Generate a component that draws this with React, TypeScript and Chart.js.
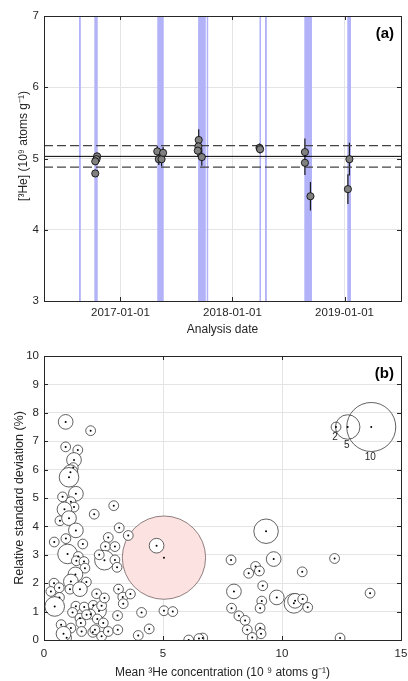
import React, { useEffect, useRef } from 'react';
import { Chart, registerables } from 'chart.js';

Chart.register(...registerables);

const FONT = '"Liberation Sans", Arial, Helvetica, sans-serif';
const INK = '#262626';
const GRID = '#e4e4e4';

// ---------- Panel (a) data ----------
const dateMin = '2016-04-27';
const dateMax = '2019-07-04';
const dateTicks = ['2017-01-01', '2018-01-01', '2019-01-01'];
const heYMin = 3;
const heYMax = 7;
const heTitle = '[³He] (10⁹ atoms g⁻¹)';

const analysisDates = [
  '2016-10-17', '2016-10-15', '2016-10-11', '2016-10-11',
  '2017-05-01', '2017-05-06', '2017-05-15', '2017-05-20',
  '2017-09-13', '2017-09-12', '2017-09-10', '2017-09-23',
  '2018-03-30', '2018-04-01',
  '2018-08-25', '2018-08-25', '2018-09-12',
  '2019-01-17', '2019-01-12',
];
const heValues = [
  5.03, 4.99, 4.96, 4.79,
  5.10, 4.99, 4.99, 5.08,
  5.26, 5.17, 5.11, 5.02,
  5.15, 5.13,
  5.09, 4.94, 4.47,
  4.99, 4.57,
];
const heErrors = [
  0.05, 0.05, 0.05, 0.05,
  0.08, 0.08, 0.1, 0.08,
  0.15, 0.08, 0.08, 0.12,
  0.06, 0.06,
  0.19, 0.17, 0.2,
  0.23, 0.21,
];
const bandStarts = ['2016-08-19', '2016-10-08', '2017-05-01', '2017-09-11', '2017-10-09', '2018-03-30', '2018-04-17', '2018-08-23', '2019-01-10'];
const bandEnds = ['2016-08-25', '2016-10-19', '2017-05-22', '2017-10-06', '2017-10-13', '2018-04-03', '2018-04-23', '2018-09-17', '2019-01-22'];
const meanValue = 5.03;
const meanSpread = 0.15;

// ---------- Panel (b) data ----------
const bubbleConc = [
  0.91, 1.96, 0.91, 1.42, 1.26, 1.23, 1.11, 1.05, 0.78, 1.34,
  1.13, 1.26, 0.86, 2.93, 2.11, 0.67, 1.05, 3.16, 3.54, 1.34,
  0.92, 0.43, 1.63, 2.70, 2.58, 2.98, 0.99, 1.44, 1.36, 1.68,
  1.72, 2.54, 2.32, 2.98, 3.07, 1.32, 1.13, 1.78, 0.42, 0.29,
  0.64, 1.09, 1.51, 0.65, 0.45, 1.34, 1.20, 1.69, 2.07, 2.31,
  2.42, 1.96, 1.51, 1.79, 2.24, 2.49, 2.21, 2.54, 3.13, 3.31,
  3.63, 3.33, 3.09, 4.10, 5.04, 5.41, 4.42, 3.96, 6.08, 6.67,
  6.51, 0.72, 1.13, 1.55, 1.58, 0.95, 0.82, 2.05, 2.42, 2.70,
  3.10, 2.14, 4.73,
  9.33, 9.65, 7.86, 8.89, 8.60, 9.05, 10.85, 9.19, 7.98, 9.78,
  10.50, 10.55, 10.87, 11.08, 9.15, 9.08, 7.88, 8.19, 8.45, 8.54,
  9.08, 9.12, 8.75, 12.21, 13.70, 12.44,
];
const bubbleRsd = [
  7.68, 7.37, 6.80, 6.69, 6.34, 6.07, 5.91, 5.73, 5.04, 5.15,
  4.87, 4.68, 4.60, 4.73, 4.43, 4.20, 4.29, 3.95, 3.68, 3.86,
  3.57, 3.45, 3.38, 3.61, 3.29, 3.29, 3.03, 2.94, 2.79, 2.76,
  2.53, 2.81, 3.00, 2.82, 2.56, 2.31, 2.06, 2.04, 2.00, 1.71,
  1.84, 1.79, 1.79, 1.50, 1.18, 1.19, 0.97, 1.16, 1.22, 1.02,
  1.21, 0.91, 0.77, 0.89, 0.74, 0.60, 1.63, 1.48, 1.79, 1.51,
  1.62, 1.28, 0.86, 0.97, 1.03, 1.00, 0.39, 0.16, 0.00, 0.07,
  0.05, 0.54, 0.42, 0.60, 0.30, 0.08, 0.22, 0.27, 0.13, 0.30,
  0.36, 0.36, 3.32,
  3.83, 2.85, 2.82, 2.59, 2.35, 2.43, 2.40, 1.91, 1.71, 1.50,
  1.29, 1.38, 1.44, 1.15, 1.37, 1.12, 1.12, 0.85, 0.69, 0.36,
  0.42, 0.22, 0.09, 2.87, 1.65, 0.07,
];
const bubbleN = [
  3, 2, 2, 2, 3, 2, 3, 4, 2, 3,
  2, 2, 3, 2, 2, 2, 3, 2, 2, 3,
  2, 2, 2, 2, 2, 2, 4, 2, 2, 2,
  2, 4, 2, 2, 2, 3, 3, 2, 2, 2,
  2, 2, 3, 2, 4, 2, 2, 2, 2, 3,
  2, 2, 2, 2, 2, 2, 2, 2, 2, 2,
  2, 2, 2, 2, 2, 2, 2, 2, 2, 2,
  2, 2, 2, 2, 2, 2, 3, 2, 2, 2,
  2, 2, 3,
  5, 3, 2, 2, 2, 2, 2, 2, 3, 3,
  4, 3, 2, 2, 2, 2, 2, 2, 2, 2,
  2, 2, 2, 2, 2, 2,
];
const summaryConc = 5.04;
const summaryRsd = 2.9;
const summaryN = 17;

const legendN = [2, 5, 10];
const legendConc = [12.27, 12.76, 13.75];
const legendRsd = [7.5, 7.5, 7.5];

const R_PER_N = 2.45;

const toMs = (d: string) => Date.parse(d + 'T00:00:00Z');

const noPad = (s: any) => {
  s.paddingLeft = 0;
  s.paddingRight = 0;
  s.paddingTop = 0;
  s.paddingBottom = 0;
};

const boxPlugin = {
  id: 'box',
  afterDraw(chart: any, _args: any, opts: any) {
    const { ctx, chartArea: a } = chart;
    const xs = chart.scales.x;
    const ys = chart.scales.y;
    ctx.save();
    ctx.strokeStyle = INK;
    ctx.lineWidth = 1;
    ctx.beginPath();
    xs.ticks.forEach((t: any) => {
      const px = Math.round(xs.getPixelForValue(t.value)) + 0.5;
      ctx.moveTo(px, a.bottom);
      ctx.lineTo(px, a.bottom - 4);
      ctx.moveTo(px, a.top);
      ctx.lineTo(px, a.top + 4);
    });
    ys.ticks.forEach((t: any) => {
      const py = Math.round(ys.getPixelForValue(t.value)) + 0.5;
      ctx.moveTo(a.left, py);
      ctx.lineTo(a.left + 4, py);
      ctx.moveTo(a.right, py);
      ctx.lineTo(a.right - 4, py);
    });
    ctx.stroke();
    ctx.strokeRect(Math.round(a.left) + 0.5, Math.round(a.top) + 0.5, Math.round(a.right - a.left), Math.round(a.bottom - a.top));
    ctx.font = `bold 15px ${FONT}`;
    ctx.fillStyle = '#000';
    ctx.textAlign = 'right';
    ctx.textBaseline = 'middle';
    ctx.fillText(opts.label, a.right - 7, a.top + 18);
    if (opts.yTitle) {
      ctx.font = `12px ${FONT}`;
      ctx.fillStyle = INK;
      ctx.textAlign = 'center';
      ctx.translate(24, a.top + (a.bottom - a.top) * 0.456);
      ctx.rotate(-Math.PI / 2);
      ctx.fillText(opts.yTitle, 0, 0);
    }
    ctx.restore();
  },
};

const panelAPlugin = {
  id: 'panelA',
  beforeDatasetsDraw(chart: any) {
    const { ctx, chartArea: a } = chart;
    const x = chart.scales.x;
    const y = chart.scales.y;
    ctx.save();
    ctx.beginPath();
    ctx.rect(a.left, a.top, a.right - a.left, a.bottom - a.top);
    ctx.clip();
    ctx.fillStyle = 'rgb(178,178,248)';
    bandStarts.forEach((s, i) => {
      const x1 = x.getPixelForValue(toMs(s));
      const x2 = x.getPixelForValue(toMs(bandEnds[i]));
      ctx.fillRect(x1, a.top, Math.max(x2 - x1, 1.5), a.bottom - a.top);
    });
    ctx.strokeStyle = '#1a1a1a';
    ctx.lineWidth = 1.2;
    ctx.beginPath();
    analysisDates.forEach((d, i) => {
      const px = x.getPixelForValue(toMs(d));
      ctx.moveTo(px, y.getPixelForValue(heValues[i] - heErrors[i]));
      ctx.lineTo(px, y.getPixelForValue(heValues[i] + heErrors[i]));
    });
    ctx.stroke();
    ctx.restore();
  },
};

const legendLabelPlugin = {
  id: 'legendLabels',
  afterDatasetsDraw(chart: any) {
    const { ctx } = chart;
    const x = chart.scales.x;
    const y = chart.scales.y;
    ctx.save();
    ctx.font = `10px ${FONT}`;
    ctx.fillStyle = INK;
    ctx.textAlign = 'center';
    ctx.textBaseline = 'top';
    legendN.forEach((n, i) => {
      const px = x.getPixelForValue(legendConc[i]);
      const py = y.getPixelForValue(legendRsd[i]);
      ctx.fillText(String(n), px - 1, py + n * R_PER_N + 0.5);
    });
    ctx.restore();
  },
};

const tickFont = { family: FONT, size: 11.5 };
const titleFont = { family: FONT, size: 12 };

function PanelA() {
  const ref = useRef<HTMLCanvasElement>(null);
  useEffect(() => {
    const xMin = toMs(dateMin);
    const xMax = toMs(dateMax);
    const hLine = (v: number, color: string, dash: number[], w: number) => ({
      data: [{ x: xMin, y: v }, { x: xMax, y: v }],
      showLine: true,
      borderColor: color,
      borderWidth: w,
      borderDash: dash,
      pointRadius: 0,
      order: 1,
    });
    const chart = new Chart(ref.current as HTMLCanvasElement, {
      type: 'scatter',
      data: {
        datasets: [
          {
            data: analysisDates.map((d, i) => ({ x: toMs(d), y: heValues[i] })),
            pointRadius: 3.6,
            backgroundColor: '#808080',
            borderColor: '#000',
            borderWidth: 0.8,
            order: 0,
          } as any,
          hLine(meanValue, '#000', [], 1),
          hLine(meanValue + meanSpread, '#444', [9, 4], 1.2),
          hLine(meanValue - meanSpread, '#444', [9, 4], 1.2),
        ],
      },
      options: {
        animation: false,
        responsive: false,
        events: [],
        layout: { autoPadding: false, padding: { left: 0, right: 7, top: 16, bottom: 0 } },
        plugins: { legend: { display: false }, tooltip: { enabled: false }, box: { label: '(a)', yTitle: heTitle } } as any,
        scales: {
          x: {
            type: 'linear',
            min: xMin,
            max: xMax,
            afterBuildTicks: (s: any) => {
              s.ticks = dateTicks.map((d) => ({ value: toMs(d) }));
            },
            afterFit: (s: any) => {
              s.height = 39;
              noPad(s);
            },
            ticks: {
              callback: (v: any) => new Date(v).toISOString().slice(0, 10),
              font: tickFont,
              color: INK,
              padding: 5,
              maxRotation: 0,
              autoSkip: false,
            },
            grid: { color: GRID, drawTicks: false },
            border: { display: false },
            title: { display: true, text: 'Analysis date', font: titleFont, color: INK, padding: { top: 0, bottom: 3 } },
          },
          y: {
            type: 'linear',
            min: heYMin,
            max: heYMax,
            afterFit: (s: any) => {
              s.width = 44;
              noPad(s);
            },
            ticks: { stepSize: 1, font: tickFont, color: INK, padding: 5 },
            grid: { color: GRID, drawTicks: false },
            border: { display: false },
            title: { display: false },
          },
        } as any,
      },
      plugins: [panelAPlugin, boxPlugin],
    } as any);
    return () => chart.destroy();
  }, []);
  return <canvas ref={ref} width={408} height={340} style={{ display: 'block', width: 408, height: 340 }} />;
}

function PanelB() {
  const ref = useRef<HTMLCanvasElement>(null);
  useEffect(() => {
    const centers = [
      ...bubbleConc.map((x, i) => ({ x, y: bubbleRsd[i], r: 1 })),
      { x: summaryConc, y: summaryRsd, r: 1 },
      ...legendConc.map((x, i) => ({ x, y: legendRsd[i], r: 1 })),
    ];
    const chart = new Chart(ref.current as HTMLCanvasElement, {
      type: 'bubble',
      data: {
        datasets: [
          {
            data: [{ x: summaryConc, y: summaryRsd, r: summaryN * R_PER_N }],
            backgroundColor: 'rgb(253,226,226)',
            borderColor: 'rgb(115,95,95)',
            borderWidth: 0.8,
            order: 3,
            clip: 0,
          },
          {
            data: bubbleConc.map((x, i) => ({ x, y: bubbleRsd[i], r: bubbleN[i] * R_PER_N })),
            backgroundColor: '#ffffff',
            borderColor: '#3a3a3a',
            borderWidth: 0.8,
            order: 2,
            clip: 0,
          },
          {
            data: legendConc.map((x, i) => ({ x, y: legendRsd[i], r: legendN[i] * R_PER_N })),
            backgroundColor: 'rgba(255,255,255,0)',
            borderColor: '#3a3a3a',
            borderWidth: 0.8,
            order: 1,
            clip: 0,
          },
          {
            data: centers,
            backgroundColor: '#000',
            borderWidth: 0,
            order: 0,
            clip: 0,
          },
        ] as any,
      },
      options: {
        animation: false,
        responsive: false,
        events: [],
        layout: { autoPadding: false, padding: { left: 0, right: 7, top: 16, bottom: 0 } },
        plugins: { legend: { display: false }, tooltip: { enabled: false }, box: { label: '(b)' } } as any,
        scales: {
          x: {
            type: 'linear',
            min: 0,
            max: 15,
            afterFit: (s: any) => {
              s.height = 41;
              noPad(s);
            },
            ticks: { stepSize: 5, font: tickFont, color: INK, padding: 7, maxRotation: 0 },
            grid: { color: GRID, drawTicks: false },
            border: { display: false },
            title: { display: true, text: 'Mean ³He concentration (10 ⁹ atoms g⁻¹)', font: titleFont, color: INK, padding: { top: 0, bottom: 1 } },
          },
          y: {
            type: 'linear',
            min: 0,
            max: 10,
            afterFit: (s: any) => {
              s.width = 44;
              noPad(s);
            },
            ticks: { stepSize: 1, font: tickFont, color: INK, padding: 5 },
            grid: { color: GRID, drawTicks: false },
            border: { display: false },
            title: { display: true, text: 'Relative standard deviation (%)', font: { family: FONT, size: 12.5 }, color: INK, padding: { top: 12, bottom: 0 } },
          },
        } as any,
      },
      plugins: [legendLabelPlugin, boxPlugin],
    } as any);
    return () => chart.destroy();
  }, []);
  return <canvas ref={ref} width={408} height={341} style={{ display: 'block', width: 408, height: 341 }} />;
}

export default function App() {
  return (
    <div style={{ position: 'absolute', left: 0, top: 0, width: 408, height: 681, background: '#fff' }}>
      <PanelA />
      <PanelB />
    </div>
  );
}
